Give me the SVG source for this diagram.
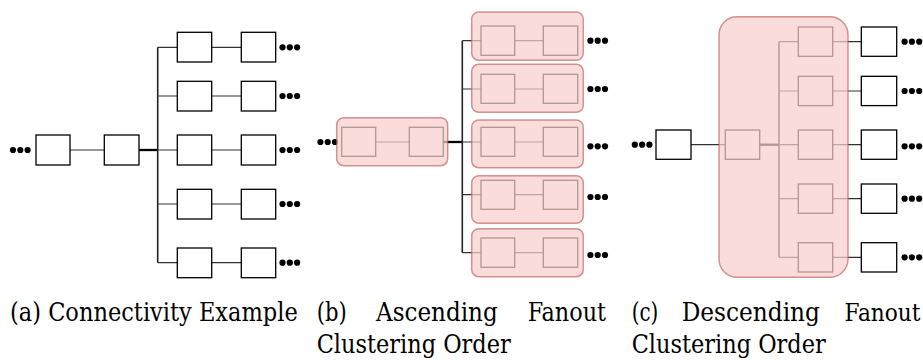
<svg xmlns="http://www.w3.org/2000/svg" width="923" height="360" viewBox="0 0 923 360">
  <style>
    .box { fill: #ffffff; stroke: #000000; stroke-width: 1.3; }
    .wire { fill: none; stroke: #333333; stroke-width: 1.2; }
    .trunk { fill: none; stroke: #222222; stroke-width: 1.6; }
    .bus { fill: none; stroke: #000000; stroke-width: 2.3; }
    .cluster { fill: #f8cecc; fill-opacity: 0.72; stroke: #b85450; stroke-opacity: 0.6; stroke-width: 1.5; }
    .dot { fill: #000000; }
    .cap { font-family: 'DejaVu Serif Condensed', 'DejaVu Serif', serif; font-stretch: condensed; font-size: 26px; fill: #000000; }
  </style>
  <defs>
    <g id="dots">
      <circle class="dot" cx="0" cy="0" r="3.1"/>
      <circle class="dot" cx="7.3" cy="0" r="3.1"/>
      <circle class="dot" cx="14.6" cy="0" r="3.1"/>
    </g>
  </defs>

  <!-- connectors -->
  <g id="connectors">
    <!-- (a) -->
    <path class="wire" d="M70,150 H104.3"/>
    <path class="bus" d="M139,150 H158"/>
    <path class="trunk" d="M157.7,47.3 V262.7"/>
    <path class="wire" d="M157.7,47.3 H177.3 M157.7,96 H177.3 M157.7,150 H177.3 M157.7,204 H177.3 M157.7,262.7 H177.3"/>
    <path class="wire" d="M211.7,47.3 H241.3 M211.7,96 H241.3 M211.7,150 H241.3 M211.7,204 H241.3 M211.7,262.7 H241.3"/>
    <!-- (b) -->
    <path class="wire" d="M375.7,142 H409.3"/>
    <path class="bus" d="M443.3,142 H462.6"/>
    <path class="trunk" d="M462.3,40.7 V252.7"/>
    <path class="wire" d="M462.3,40.7 H481 M462.3,89 H481 M462.3,142 H481 M462.3,194.7 H481 M462.3,252.7 H481"/>
    <path class="wire" d="M514.7,40.7 H543.3 M514.7,89 H543.3 M514.7,142 H543.3 M514.7,194.7 H543.3 M514.7,252.7 H543.3"/>
    <!-- (c) -->
    <path class="wire" d="M691,144.7 H725.3"/>
    <path class="bus" d="M759.7,144.7 H779.3"/>
    <path class="trunk" d="M779,41.7 V257.3"/>
    <path class="wire" d="M779,41.7 H798.3 M779,91 H798.3 M779,144.7 H798.3 M779,198.7 H798.3 M779,257.3 H798.3"/>
    <path class="wire" d="M832.7,41.7 H861.3 M832.7,91 H861.3 M832.7,144.7 H861.3 M832.7,198.7 H861.3 M832.7,257.3 H861.3"/>
  </g>

  <!-- (a) connectivity example -->
  <g id="a-src"><use href="#dots" x="13" y="150"/><rect class="box" x="36" y="135" width="34" height="30"/></g>
  <g id="a-hub"><rect class="box" x="104.3" y="135" width="34.7" height="30"/></g>
  <g id="a-r1"><rect class="box" x="177.3" y="32.3" width="34.4" height="29.7"/><rect class="box" x="241.3" y="32.3" width="34.4" height="29.7"/><use href="#dots" x="282.5" y="47.3"/></g>
  <g id="a-r2"><rect class="box" x="177.3" y="81.3" width="34.4" height="29.7"/><rect class="box" x="241.3" y="81.3" width="34.4" height="29.7"/><use href="#dots" x="282.5" y="96"/></g>
  <g id="a-r3"><rect class="box" x="177.3" y="135" width="34.4" height="30"/><rect class="box" x="241.3" y="135" width="34.4" height="30"/><use href="#dots" x="282.5" y="150"/></g>
  <g id="a-r4"><rect class="box" x="177.3" y="189.3" width="34.4" height="29.7"/><rect class="box" x="241.3" y="189.3" width="34.4" height="29.7"/><use href="#dots" x="282.5" y="204"/></g>
  <g id="a-r5"><rect class="box" x="177.3" y="248" width="34.4" height="29.7"/><rect class="box" x="241.3" y="248" width="34.4" height="29.7"/><use href="#dots" x="282.5" y="262.7"/></g>

  <!-- (b) ascending fanout clustering -->
  <g id="b-src">
    <use href="#dots" x="320.4" y="142"/>
    <rect class="box" x="341.7" y="127.3" width="34" height="29"/>
    <rect class="box" x="409.3" y="127.3" width="34" height="29"/>
    <rect class="cluster" x="336.7" y="117.7" width="111" height="48" rx="7"/>
  </g>
  <g id="b-r1">
    <rect class="box" x="481" y="26" width="33.7" height="29.3"/><rect class="box" x="543.3" y="26" width="34.4" height="29.3"/>
    <rect class="cluster" x="471.7" y="12" width="111.6" height="48.3" rx="7"/><use href="#dots" x="590.4" y="40.7"/>
  </g>
  <g id="b-r2">
    <rect class="box" x="481" y="74.3" width="33.7" height="29"/><rect class="box" x="543.3" y="74.3" width="34.4" height="29"/>
    <rect class="cluster" x="471.7" y="64.3" width="111.6" height="48" rx="7"/><use href="#dots" x="590.4" y="89"/>
  </g>
  <g id="b-r3">
    <rect class="box" x="481" y="127.3" width="33.7" height="29"/><rect class="box" x="543.3" y="127.3" width="34.4" height="29"/>
    <rect class="cluster" x="471.7" y="120" width="111.6" height="47.7" rx="7"/><use href="#dots" x="590.4" y="146.3"/>
  </g>
  <g id="b-r4">
    <rect class="box" x="481" y="180.3" width="33.7" height="29"/><rect class="box" x="543.3" y="180.3" width="34.4" height="29"/>
    <rect class="cluster" x="471.7" y="175.7" width="111.6" height="47.6" rx="7"/><use href="#dots" x="590.4" y="197"/>
  </g>
  <g id="b-r5">
    <rect class="box" x="481" y="238" width="33.7" height="29.3"/><rect class="box" x="543.3" y="238" width="34.4" height="29.3"/>
    <rect class="cluster" x="471.7" y="228.7" width="111.6" height="48" rx="7"/><use href="#dots" x="590.4" y="255"/>
  </g>

  <!-- (c) descending fanout clustering -->
  <g id="c-src"><use href="#dots" x="634.8" y="144.7"/><rect class="box" x="656" y="130" width="35" height="29.3"/></g>
  <g id="c-out1"><rect class="box" x="861.3" y="27" width="35.4" height="29.3"/><use href="#dots" x="904.6" y="41.7"/></g>
  <g id="c-out2"><rect class="box" x="861.3" y="76.3" width="35.4" height="29.3"/><use href="#dots" x="904.6" y="91"/></g>
  <g id="c-out3"><rect class="box" x="861.3" y="130" width="35.4" height="29.3"/><use href="#dots" x="904.6" y="146.3"/></g>
  <g id="c-out4"><rect class="box" x="861.3" y="184" width="35.4" height="29.3"/><use href="#dots" x="904.6" y="198.7"/></g>
  <g id="c-out5"><rect class="box" x="861.3" y="242.7" width="35.4" height="29.3"/><use href="#dots" x="904.6" y="257.3"/></g>
  <g id="c-cluster">
    <rect class="box" x="725.3" y="130" width="34.4" height="29.3"/>
    <rect class="box" x="798.3" y="27" width="34.4" height="29.3"/>
    <rect class="box" x="798.3" y="76.3" width="34.4" height="29.3"/>
    <rect class="box" x="798.3" y="130" width="34.4" height="29.3"/>
    <rect class="box" x="798.3" y="184" width="34.4" height="29.3"/>
    <rect class="box" x="798.3" y="242.7" width="34.4" height="29.3"/>
    <rect class="cluster" x="719" y="16.7" width="129" height="260.6" rx="18"/>
  </g>

  <!-- captions: justified words placed one by one -->
  <g id="captions" class="cap">
    <text x="10" y="321" textLength="287.7" lengthAdjust="spacingAndGlyphs">(a) Connectivity Example</text>
    <text x="316.7" y="321" textLength="30" lengthAdjust="spacingAndGlyphs">(b)</text>
    <text x="376" y="321" textLength="121.7" lengthAdjust="spacingAndGlyphs">Ascending</text>
    <text x="527.7" y="321" textLength="78.3" lengthAdjust="spacingAndGlyphs">Fanout</text>
    <text x="316.7" y="353.3" textLength="194" lengthAdjust="spacingAndGlyphs">Clustering Order</text>
    <text x="631.7" y="321" textLength="26.6" lengthAdjust="spacingAndGlyphs">(c)</text>
    <text x="681.7" y="321" textLength="138.3" lengthAdjust="spacingAndGlyphs">Descending</text>
    <text x="844.5" y="321" font-size="24" textLength="76" lengthAdjust="spacingAndGlyphs">Fanout</text>
    <text x="631.7" y="353.3" textLength="194" lengthAdjust="spacingAndGlyphs">Clustering Order</text>
  </g>
</svg>
